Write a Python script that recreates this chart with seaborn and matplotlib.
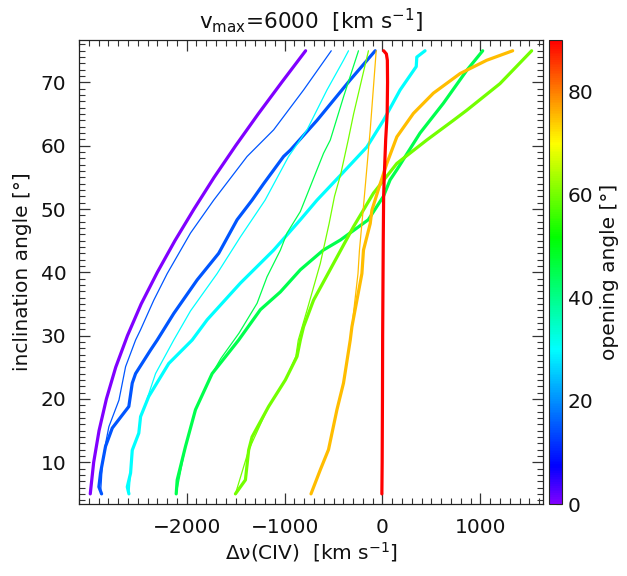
import numpy as np
import pandas as pd
import matplotlib
matplotlib.use("Agg")
import matplotlib.pyplot as plt
import seaborn as sns
from matplotlib.colors import LinearSegmentedColormap, Normalize
from matplotlib.cm import ScalarMappable
from matplotlib.ticker import MultipleLocator

# opening angle 0
incl_a0 = [5, 10, 15, 20, 25, 30, 35, 40, 45, 50, 55, 60, 65, 70, 75]
dv_a0 = [-2985, -2950, -2895, -2820, -2725, -2605, -2465, -2300, -2120, -1925, -1720, -1500, -1270, -1030, -785]

# opening angle 15
incl_a15 = [5, 6.1, 8.3, 9.8, 12.5, 15.4, 18.8, 22.5, 24, 27.7, 29.3, 33.5, 38.8, 43, 48.3, 51.4, 54, 58.3, 59.3, 64, 70.4, 75]
dv_a15 = [-2869, -2897, -2880, -2862, -2829, -2760, -2591, -2556, -2522, -2370, -2301, -2132, -1893, -1673, -1485, -1332, -1214, -1010, -941, -669, -329, -74]
incl_a15t = [5, 10, 13, 15.6, 19.8, 25.1, 29.3, 30.9, 35.6, 39.8, 46.2, 51.4, 58.3, 62.5, 68.8, 75]
dv_a15t = [-2880, -2860, -2828, -2795, -2692, -2624, -2522, -2472, -2336, -2199, -1961, -1724, -1383, -1112, -806, -523]

# opening angle 30
incl_a30 = [5, 6.1, 8.3, 11.9, 14.6, 17.2, 20.4, 25.6, 29.3, 32.5, 36.7, 38.3, 43.5, 48.3, 51.4, 55.3, 59.8, 64, 68.8, 72.5, 74, 75]
dv_a30 = [-2590, -2607, -2573, -2556, -2489, -2471, -2387, -2183, -1944, -1791, -1545, -1451, -1112, -839, -669, -431, -159, 10, 180, 345, 351, 435]
incl_a30t = [5, 8.3, 11.9, 14.6, 17.2, 19.3, 24, 26.4, 29.3, 33.9, 39.8, 45.6, 51.4, 58.3, 62.5, 68.8, 73.5, 75]
dv_a30t = [-2590, -2573, -2556, -2489, -2471, -2420, -2318, -2234, -2132, -1961, -1689, -1451, -1199, -959, -771, -567, -398, -347]

# opening angle 45
incl_a45 = [5, 7.2, 12.5, 18.3, 24, 29.3, 34.1, 36.9, 40.4, 43.5, 45.1, 48.3, 52, 54.6, 56.2, 62, 66.7, 71.9, 75]
dv_a45 = [-2107, -2097, -2012, -1910, -1740, -1469, -1247, -1043, -839, -605, -430, -145, 10, 78, 147, 384, 622, 861, 1024]
incl_a45t = [5, 12.5, 18.3, 24, 26.4, 30.4, 35.1, 39.3, 43.5, 46.2, 49.6, 58.8, 60.9, 67.7, 75]
dv_a45t = [-2107, -2012, -1910, -1740, -1650, -1465, -1281, -1179, -1043, -975, -839, -602, -533, -398, -245]

# opening angle 60
incl_a60 = [5, 6.1, 7.2, 11.9, 14, 18.8, 23, 26.7, 29.3, 31.4, 35.6, 41.4, 47.2, 52.5, 57.2, 60.9, 64, 65.6, 69.8, 75]
dv_a60 = [-1502, -1451, -1400, -1367, -1332, -1163, -992, -873, -839, -806, -704, -500, -296, -92, 147, 453, 724, 861, 1200, 1524]
incl_a60t = [5, 11.9, 18.8, 23, 26.7, 29.3, 34, 41.4, 47.7, 52, 55.6, 60.9, 65, 75]
dv_a60t = [-1502, -1367, -1163, -992, -885, -860, -771, -635, -545, -490, -425, -350, -295, -143]

# opening angle 75
incl_a75 = [5, 8.8, 12, 18.3, 22.5, 29.3, 31.4, 39.8, 43.5, 47.7, 49.8, 54, 57.2, 61.4, 65.1, 68.3, 71.4, 73.5, 75]
dv_a75 = [-730, -635, -551, -465, -398, -329, -312, -210, -194, -125, -108, -23, 45, 147, 316, 520, 793, 1065, 1330]
incl_a75t = [5, 8.8, 12, 18.3, 22.5, 29.3, 31.4, 39.8, 43.5, 50.4, 62.5, 75]
dv_a75t = [-730, -635, -551, -465, -398, -329, -312, -250, -235, -194, -125, -64]

# opening angle 90
incl_a90 = [5, 10, 20, 30, 45, 52, 55, 61, 65, 70, 73.5, 74.5, 75]
dv_a90 = [-6, -3, 0, 2, 8, 12, 18, 33, 48, 52, 50, 40, 12]

lines = [
    (0, incl_a0, dv_a0, "thick"),
    (15, incl_a15t, dv_a15t, "thin"),
    (15, incl_a15, dv_a15, "thick"),
    (30, incl_a30t, dv_a30t, "thin"),
    (30, incl_a30, dv_a30, "thick"),
    (45, incl_a45t, dv_a45t, "thin"),
    (45, incl_a45, dv_a45, "thick"),
    (60, incl_a60t, dv_a60t, "thin"),
    (60, incl_a60, dv_a60, "thick"),
    (75, incl_a75t, dv_a75t, "thin"),
    (75, incl_a75, dv_a75, "thick"),
    (90, incl_a90, dv_a90, "thick"),
]

sns.set_style("ticks")
plt.rcParams["font.family"] = ["DejaVu Sans"]
plt.rcParams["mathtext.fontset"] = "dejavusans"
plt.rcParams["text.color"] = "#111111"
plt.rcParams["axes.labelcolor"] = "#111111"
plt.rcParams["xtick.color"] = "#111111"
plt.rcParams["ytick.color"] = "#111111"

cmap = LinearSegmentedColormap.from_list("idl_rainbow", [
    (0.0, "#8000ff"), (0.08, "#0000ff"), (0.333, "#00ffff"),
    (0.575, "#00ff00"), (0.778, "#ffff00"), (1.0, "#ff0000")])
norm = Normalize(0, 90)

fig = plt.figure(figsize=(6.27, 5.76), dpi=100)
ax = fig.add_axes([79 / 627, 72 / 576, 464 / 627, 464 / 576])
cax = fig.add_axes([549 / 627, 72 / 576, 13 / 627, 464 / 576])

for angle, incl, dv, kind in lines:
    lw = 2.3 if kind == "thick" else 0.9
    sns.lineplot(x=dv, y=incl, ax=ax, sort=False, estimator=None, orient="y",
                 color=cmap(norm(angle)), linewidth=lw)

ax.set_xlim(-3100, 1640)
ax.set_ylim(3.4, 76.7)
ax.xaxis.set_minor_locator(MultipleLocator(100))
ax.yaxis.set_minor_locator(MultipleLocator(1))
ax.set_xticks([-2000, -1000, 0, 1000])
ax.set_xticklabels(["\u22122000", "\u22121000", "0", "1000"])
ax.set_yticks([10, 20, 30, 40, 50, 60, 70])
ax.tick_params(which="both", direction="in", top=True, right=True,
               color="#333333", labelsize=14.5)
ax.tick_params(which="major", length=8, width=0.9)
ax.tick_params(which="minor", length=4, width=0.8)
ax.tick_params(axis="x", pad=10)
ax.tick_params(axis="y", pad=9)
for s in ax.spines.values():
    s.set_linewidth(0.9)
    s.set_color("#222222")

ax.set_xlabel("\u0394\u03bd(CIV)  [km s$^{-1}$]", fontsize=14.5, labelpad=2)
ax.set_ylabel("inclination angle [\u00b0]", fontsize=14.5, labelpad=6)
ax.set_title("v$_{\\rm max}$=6000  [km s$^{-1}$]", fontsize=15.5, pad=8)

cb = fig.colorbar(ScalarMappable(norm=norm, cmap=cmap), cax=cax)
cb.set_ticks([0, 20, 40, 60, 80])
cb.ax.tick_params(direction="in", length=4, width=0.8, labelsize=14.5, pad=4, color="#333333")
cb.outline.set_linewidth(0.8)
cb.set_label("opening angle [\u00b0]", fontsize=14.5, labelpad=5)

fig.savefig("out.png", dpi=100)
